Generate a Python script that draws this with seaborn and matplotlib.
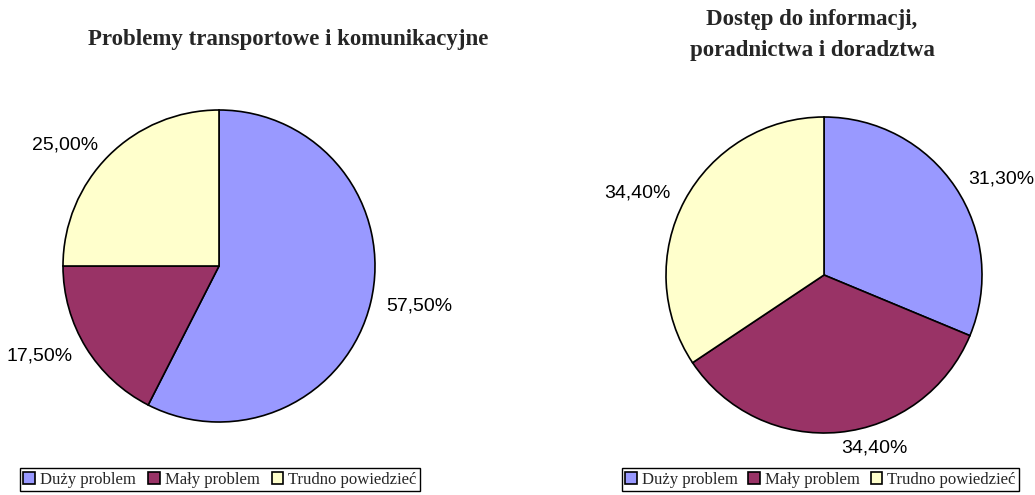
import matplotlib
matplotlib.use('Agg')
import matplotlib.pyplot as plt
import seaborn as sns

sns.set_theme(style='white')

# data
categories = ['Duży problem', 'Mały problem', 'Trudno powiedzieć']
transport_values = [57.5, 17.5, 25.0]
info_values = [31.3, 34.4, 34.4]
colors = ['#9999FF', '#993366', '#FFFFCC']

W, H = 1035, 495


def px_rect(left, top, w, h):
    # pixel box (from top-left) -> figure fraction
    return [left / W, 1 - (top + h) / H, w / W, h / H]


def fmt(v):
    return f'{v:.2f}%'.replace('.', ',')


fig = plt.figure(figsize=(W / 100, H / 100), dpi=100)
fig.patch.set_facecolor('white')

serif = ['Liberation Serif', 'DejaVu Serif']
sans = ['Liberation Sans', 'DejaVu Sans']


def draw_pie(rect, values, legend_rect):
    ax = fig.add_axes(rect)
    wedges, _ = ax.pie(values, colors=colors, startangle=90, counterclock=False,
                       labels=[fmt(v) for v in values], labeldistance=1.1,
                       wedgeprops=dict(edgecolor='black', linewidth=1.2),
                       textprops=dict(fontsize=14, family=sans, color='black'))
    ax.set_xlim(-1, 1)
    ax.set_ylim(-1, 1)
    ax.axis('off')
    leg = fig.legend(wedges, categories, loc='lower left', bbox_to_anchor=legend_rect,
                     mode='expand', ncol=3, frameon=True, fancybox=False,
                     edgecolor='black', framealpha=1,
                     prop=dict(family=serif, size=12),
                     handlelength=0.7, handleheight=0.7, handletextpad=0.3,
                     columnspacing=0.6, borderpad=0.2, borderaxespad=0)
    leg.get_frame().set_linewidth(1.0)
    return ax


draw_pie(px_rect(63, 110, 312, 312), transport_values, px_rect(20, 468, 400, 23))
draw_pie(px_rect(666, 117, 316, 316), info_values, px_rect(622, 468, 397, 23))

fig.text(288 / W, 1 - 40 / H, 'Problemy transportowe i komunikacyjne',
         ha='center', va='center', fontsize=16.5, fontweight='bold', family=serif)
fig.text(812 / W, 1 - 35 / H, 'Dostęp do informacji,\nporadnictwa i doradztwa',
         ha='center', va='center', fontsize=16.5, fontweight='bold', family=serif,
         linespacing=1.6)

fig.savefig('out.png', dpi=100, facecolor='white')
